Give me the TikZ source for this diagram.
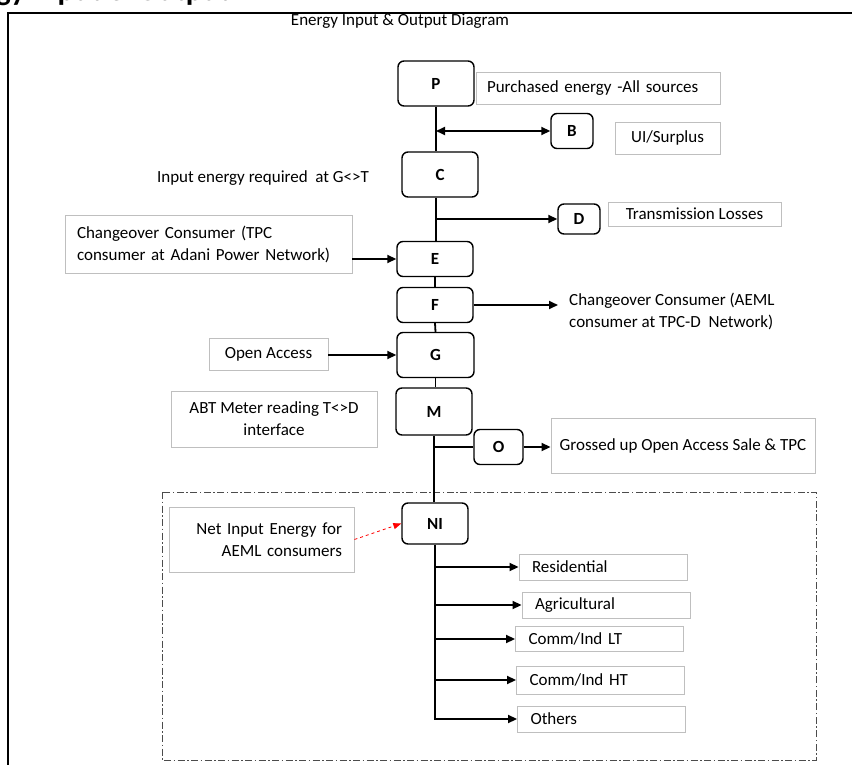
\documentclass[tikz,border=0pt]{standalone}
\usepackage{fontspec}
\setmainfont{Carlito}
\usetikzlibrary{arrows.meta, positioning}

\begin{document}
\begin{tikzpicture}[
x=1pt, y=-1pt,
unit/.style={rectangle, rounded corners=6pt, draw=black, line width=1.4pt, font=\bfseries\fontsize{17}{20}\selectfont, inner sep=0pt},
tag/.style={rectangle, draw=gray!50, line width=0.9pt, font=\fontsize{17}{22}\selectfont, inner sep=0pt},
plain/.style={font=\fontsize{17}{22}\selectfont, align=left, inner sep=0pt},
cat/.style={tag, text width=142pt, inner xsep=13pt, align=left},
line/.style={-{Triangle[length=9pt,width=8pt]}, line width=1.8pt},
both/.style={{Triangle[length=9pt,width=8pt]}-{Triangle[length=9pt,width=8pt]}, line width=1.8pt},
link/.style={line width=1.8pt},
frame/.style={draw=gray!60!black, line width=0.9pt, dash pattern=on 7pt off 2.5pt on 1.5pt off 2.5pt}
]
\useasboundingbox (0,0) rectangle (852,765);

% page frame and headings
\draw[line width=2pt] (8,775) -- (8,13) -- (860,13);
\node[font=\bfseries\fontsize{31}{31}\selectfont, anchor=base west, inner sep=0pt] (head) at (-62,0.5) {Energy Input \& Output};
\node[plain, font=\fontsize{17}{20}\selectfont] (title) at (400,21) {Energy Input \& Output Diagram};

% energy flow units
\node[unit, minimum width=76pt, minimum height=45pt] (P) at (436,83.5) {P};
\node[unit, minimum width=42pt, minimum height=35pt] (B) at (572,131) {B};
\node[unit, minimum width=76pt, minimum height=45pt] (C) at (440,174.5) {C};
\node[unit, minimum width=42pt, minimum height=30pt] (D) at (579,219) {D};
\node[unit, minimum width=76pt, minimum height=35pt] (E) at (435,259) {E};
\node[unit, minimum width=76pt, minimum height=35pt] (F) at (435,305) {F};
\node[unit, minimum width=77pt, minimum height=45pt] (G) at (435.5,355) {G};
\node[unit, minimum width=76pt, minimum height=47pt] (M) at (434,411.5) {M};
\node[unit, minimum width=49pt, minimum height=35pt] (O) at (498.5,447) {O};
\node[unit, minimum width=66pt, minimum height=41pt] (NI) at (435,523.5) {NI};

% labels
\node[tag, text width=222pt, inner xsep=11pt, minimum height=32pt, align=left] (purch) at (598,88) {Purchased energy -All sources};
\node[tag, minimum width=105pt, minimum height=32pt] (surplus) at (667.5,138) {UI/Surplus};
\node[tag, minimum width=173pt, minimum height=24pt] (loss) at (694.5,214) {Transmission Losses};
\node[plain] (need) at (263,178) {Input energy required~ at G<>T};
\node[tag, text width=263pt, inner xsep=12pt, minimum height=58pt, align=left] (tpc) at (208.5,244) {Changeover Consumer (TPC\\consumer at Adani Power Network)};
\node[plain, anchor=west, inner xsep=11pt] (aeml) at (558,311.5) {Changeover Consumer (AEML\\consumer at TPC-D~ Network)};
\node[tag, minimum width=119pt, minimum height=32pt] (oa) at (268.5,354) {Open Access};
\node[tag, minimum width=206pt, minimum height=56pt, align=center] (abt) at (274,419) {ABT Meter reading T<>D\\interface};
\node[tag, minimum width=264pt, minimum height=55pt] (gross) at (683,445.5) {Grossed up Open Access Sale \& TPC};
\node[tag, text width=161pt, inner xsep=12pt, minimum height=65pt, align=right] (net) at (261.5,539.5) {Net Input Energy for\\AEML consumers};

% consumer categories
\draw[frame] (162,492) rectangle (816,760);
\node[cat, minimum height=26pt] (r1) at (603,567) {Residential};
\node[cat, minimum height=26pt] (r2) at (606,605) {Agricultural};
\node[cat, minimum height=25pt] (r3) at (599.5,639) {Comm/Ind LT};
\node[cat, minimum height=28pt] (r4) at (600.5,680) {Comm/Ind HT};
\node[cat, minimum height=26pt] (r5) at (601.5,719) {Others};

% trunk
\draw[link] (P.south) -- (P.south |- C.north);
\draw[link] (P.south |- C.south) -- (P.south |- E.north);
\draw[link] (E.south) -- (F.north);
\draw[link] (F.south) -- (G.north);
\draw[link] (G.south) -- (G.south |- M.north);
\draw[link] (M.south) -- (M.south |- NI.north);

% branches
\draw[both] (P.south |- B.west) -- (B.west);
\draw[line] (P.south |- D.west) -- (D.west);
\draw[line] (tpc.east |- E.west) -- (E.west);
\draw[line] (F.east) -- (F.east -| aeml.west);
\draw[line] (oa.east |- G.west) -- (G.west);
\draw[link] (M.south |- O.west) -- (O.west);
\draw[line] (O.east) -- (O.east -| gross.west);
\draw[red, dashed, line width=0.8pt, -{Triangle[length=8pt,width=6pt]}] (net.east) -- (NI.west);

\draw[line] (NI.south |- r1.west) -- (r1.west);
\draw[line] (NI.south |- r2.west) -- (r2.west);
\draw[line] (NI.south |- r3.west) -- (r3.west);
\draw[line] (NI.south |- r4.west) -- (r4.west);
\draw[line] (NI.south) |- (r5.west);
\end{tikzpicture}
\end{document}
